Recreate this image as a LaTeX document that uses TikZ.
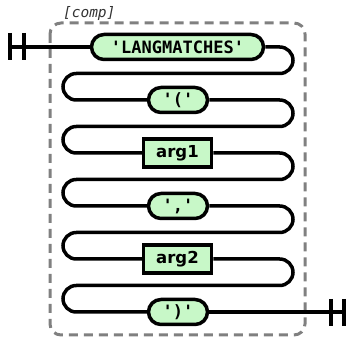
\documentclass[tikz,border=0pt]{standalone}
\usepackage{fontspec}
\setmonofont{DejaVu Sans Mono}
\setsansfont{DejaVu Sans}
\definecolor{termgreen}{RGB}{200,248,200}
\definecolor{boxgray}{RGB}{128,128,128}

\begin{document}
\begin{tikzpicture}[x=1pt, y=-1pt, line width=3.5pt,
    terminal/.style={draw=black, fill=termgreen, rounded corners=12.5pt, minimum height=25pt, inner sep=0pt,
                     font=\ttfamily\bfseries\fontsize{17}{17}\selectfont},
    nonterm/.style={draw=black, fill=termgreen, minimum height=28pt, minimum width=68pt, inner sep=0pt,
                    font=\sffamily\bfseries\fontsize{16.5}{17}\selectfont},
    wrap/.style={rounded corners=13.25pt}]
        \useasboundingbox (0,0) rectangle (349,345);
        % group box
        \draw[boxgray, line width=3pt, dash pattern=on 9pt off 6pt, rounded corners=11pt] (50,23) rectangle (305,335);
        \node[anchor=base west, text=black!80, font=\ttfamily\itshape\fontsize{14.5}{15}\selectfont] (comp) at (58,18) {[comp]};
        % items
        \draw (177.5,47)  node[terminal, minimum width=172pt] (langm) {'LANGMATCHES'};
        \draw (178,100)   node[terminal, minimum width=59pt] (lpar) {'('};
        \draw (177.5,153) node[nonterm] (argone) {arg1};
        \draw (178,206)   node[terminal, minimum width=59pt] (comma) {','};
        \draw (177.5,259) node[nonterm] (argtwo) {arg2};
        \draw (178,312)   node[terminal, minimum width=59pt] (rpar) {')'};
        \coordinate (start) at (10,47);
        \coordinate (stop) at (344,312);
        % start and end bars
        \draw (10,33) -- (10,60) (24,33) -- (24,60);
        \draw (331,299) -- (331,326) (344,299) -- (344,326);
        % connectors
        \draw (start) -- (langm.west);
        \draw[wrap] (langm.east) -- (293,47) -- (293,73.5) -- (63,73.5) -- (63,100) -- (lpar.west);
        \draw[wrap] (lpar.east) -- (293,100) -- (293,126.5) -- (63,126.5) -- (63,153) -- (argone.west);
        \draw[wrap] (argone.east) -- (293,153) -- (293,179.5) -- (63,179.5) -- (63,206) -- (comma.west);
        \draw[wrap] (comma.east) -- (293,206) -- (293,232.5) -- (63,232.5) -- (63,259) -- (argtwo.west);
        \draw[wrap] (argtwo.east) -- (293,259) -- (293,285.5) -- (63,285.5) -- (63,312) -- (rpar.west);
        \draw (rpar.east) -- (stop);
\end{tikzpicture}
\end{document}
